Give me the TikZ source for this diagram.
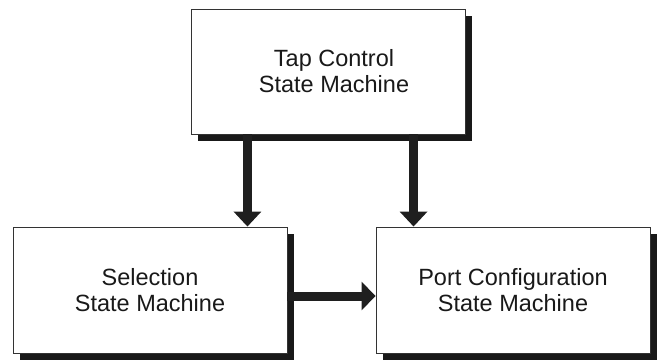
\documentclass[tikz,border=0pt]{standalone}
\usepackage{fontspec}
\setmainfont{Liberation Sans}
\usetikzlibrary{arrows.meta,shadows}
\begin{document}
\begin{tikzpicture}[x=1pt,y=1pt,
  smbox/.style={draw=black!80, line width=0.9pt, fill=white,
    minimum width=274pt, minimum height=126pt, align=center,
    font=\fontsize{23.5}{26}\selectfont, text=black!90,
    copy shadow={shadow xshift=7pt, shadow yshift=-7pt, fill=black!90, draw=none}},
  smtext/.style={align=center, font=\fontsize{23.5}{26}\selectfont, text=black!90},
  flow/.style={line width=9pt, draw=black!88,
    -{Triangle[width=27pt,length=15pt]}},
  sideflow/.style={line width=9pt, draw=black!88,
    -{Triangle[width=28pt,length=14pt]}}]
\useasboundingbox (0,0) rectangle (657,360);

% the three state machines
\node[smbox, minimum height=125pt,
  label={[smtext, xshift=6pt]center:Tap Control\\State Machine}] (tap) at (328,288.5) {};
\node[smbox] (sel) at (150,70) {Selection\\State Machine};
\node[smbox] (port) at (513,70) {Port Configuration\\State Machine};

% control flow between them
\draw[flow] ([xshift=-40pt]sel.north east |- tap.south) -- ([xshift=-40pt]sel.north east);
\draw[flow] ([xshift=38pt]port.north west |- tap.south) -- ([xshift=38pt]port.north west);
\draw[sideflow] ([yshift=-6pt]sel.east) -- ([yshift=-6pt]sel.east -| port.west);
\end{tikzpicture}
\end{document}
